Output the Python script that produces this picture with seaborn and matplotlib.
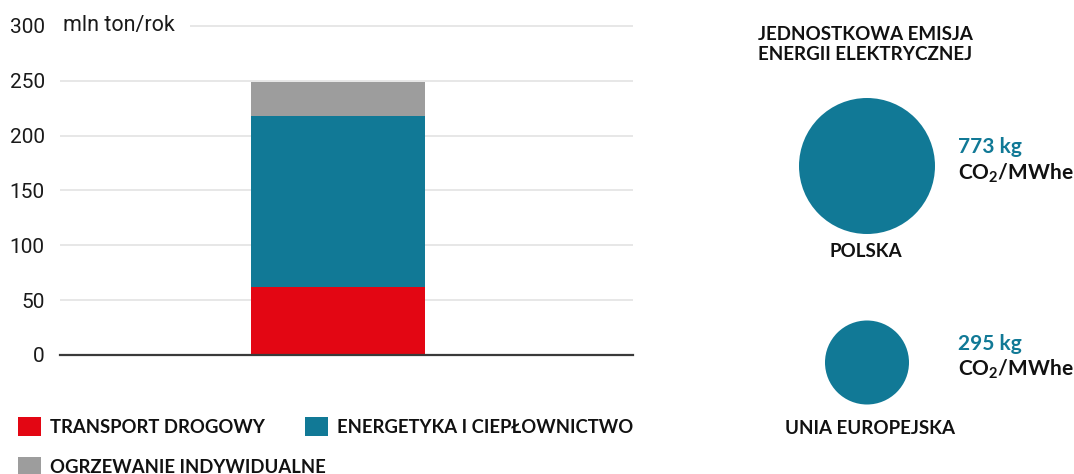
import matplotlib
matplotlib.use("Agg")
import matplotlib.pyplot as plt
import matplotlib.patches as mpatches
import seaborn as sns
import pandas as pd
import numpy as np

# ---------------- data ----------------
sectors = ["TRANSPORT DROGOWY", "ENERGETYKA I CIEPŁOWNICTWO", "OGRZEWANIE INDYWIDUALNE"]
sector_values = [62, 156, 31]          # mln ton/rok
sector_colors = ["#E30613", "#117996", "#9D9D9D"]
yticks = [0, 50, 100, 150, 200, 250, 300]
y_unit = "mln ton/rok"

countries = ["POLSKA", "UNIA EUROPEJSKA"]
emission = [773, 295]                   # kg CO2/MWhe
panel_title = "JEDNOSTKOWA EMISJA\nENERGII ELEKTRYCZNEJ"

# ---------------- style ----------------
sns.set_theme(style="white")
plt.rcParams["font.family"] = ["Lato", "DejaVu Sans"]
plt.rcParams["mathtext.fontset"] = "custom"
plt.rcParams["mathtext.rm"] = "Lato"
plt.rcParams["mathtext.bf"] = "Lato:bold"

W, H = 1074, 474
fig = plt.figure(figsize=(W / 100, H / 100), dpi=100)
fig.patch.set_facecolor("white")

def fx(px):
    return px / W

def fy(py):
    return (H - py) / H

# ---------------- stacked bar ----------------
ax = fig.add_axes([fx(60), fy(355), fx(573), (355 - 15) / H])
cum = np.cumsum(sector_values)
df = pd.DataFrame({"cat": ["x"], **{s: [c] for s, c in zip(sectors, cum)}})
for s, col in reversed(list(zip(sectors, sector_colors))):
    sns.barplot(data=df, x="cat", y=s, color=col, saturation=1, ax=ax,
                width=0.8, linewidth=0, zorder=2)
ax.set_xlim(-1.278, 1.356)
ax.set_ylim(0, 310)
ax.set_yticks(yticks)
ax.set_yticklabels([str(t) for t in yticks], family=["Roboto", "DejaVu Sans"],
                   fontsize=15, color="#1a1a1a")
ax.set_xticks([])
ax.set_xlabel("")
ax.set_ylabel("")
ax.tick_params(axis="y", length=0, pad=11)
ax.grid(axis="y", color="#E3E3E3", linewidth=1.2, zorder=0)
ax.set_axisbelow(True)
for side in ["left", "right", "top"]:
    ax.spines[side].set_visible(False)
ax.spines["bottom"].set_color("#3a3a3a")
ax.spines["bottom"].set_linewidth(1.6)
ax.spines["bottom"].set_zorder(3)
ax.text(0.005, 300, y_unit, transform=ax.get_yaxis_transform(),
        ha="left", va="center", fontsize=15.5, family=["Roboto", "DejaVu Sans"],
        color="#1a1a1a", zorder=5,
        bbox=dict(boxstyle="square,pad=0.7", facecolor="white", edgecolor="none"))

# ---------------- legend ----------------
handles = [mpatches.Patch(facecolor=c, edgecolor="none", label=s)
           for s, c in zip(sectors, sector_colors)]
leg_kw = dict(frameon=False, handlelength=1.24, handleheight=1.24,
              handletextpad=0.48, borderpad=0, borderaxespad=0,
              prop={"family": ["Lato", "DejaVu Sans"], "weight": "bold", "size": 13.3})
leg1 = fig.legend(handles=handles[:2], ncol=2, loc="center left",
                  bbox_to_anchor=(fx(18), fy(426.5)), columnspacing=2.2, **leg_kw)
leg2 = fig.legend(handles=handles[2:], ncol=1, loc="center left",
                  bbox_to_anchor=(fx(18), fy(466.5)), **leg_kw)
for lg in (leg1, leg2):
    for t in lg.get_texts():
        t.set_color("#111111")
        t.set_fontweight("bold")

# ---------------- emission bubbles ----------------
fig.text(fx(758), fy(26.5), panel_title, ha="left", va="top", fontsize=13.5,
         fontweight="bold", color="#111111", linespacing=1.2)

ax2 = fig.add_axes([fx(760), fy(460), fx(214), 390 / H])
ax2.set_xlim(-1, 1)
ax2.set_ylim(-97.5 / 196.5, 1 + 96 / 196.5)
ax2.axis("off")
ypos = list(range(len(countries)))[::-1]
dref = 136 * 72 / 100  # diameter in points for the largest value
sizes = {v: dref ** 2 * v / max(emission) for v in emission}
bdf = pd.DataFrame({"x": [0] * len(countries), "y": ypos, "v": emission})
sns.scatterplot(data=bdf, x="x", y="y", size="v", sizes=sizes, color="#117996",
                linewidth=0, legend=False, ax=ax2, clip_on=False)
ax2.set_xlabel("")
ax2.set_ylabel("")
label_offsets = [(-1, -91), (3, -72)]
for yv, v, name, lo in zip(ypos, emission, countries, label_offsets):
    ax2.annotate(f"{v} kg", xy=(0, yv), xytext=(91, 13), textcoords="offset pixels",
                 ha="left", va="baseline", fontsize=15, fontweight="bold", color="#117996",
                 annotation_clip=False)
    ax2.annotate(r"CO$_{\mathbf{2}}$/MWhe", xy=(0, yv), xytext=(91, -13),
                 textcoords="offset pixels", ha="left", va="baseline", fontsize=15,
                 fontweight="bold", color="#111111", annotation_clip=False)
    ax2.annotate(name, xy=(0, yv), xytext=lo, textcoords="offset pixels",
                 ha="center", va="baseline", fontsize=13.5, fontweight="bold",
                 color="#111111", annotation_clip=False)

fig.savefig("out.png", dpi=100, facecolor="white")
